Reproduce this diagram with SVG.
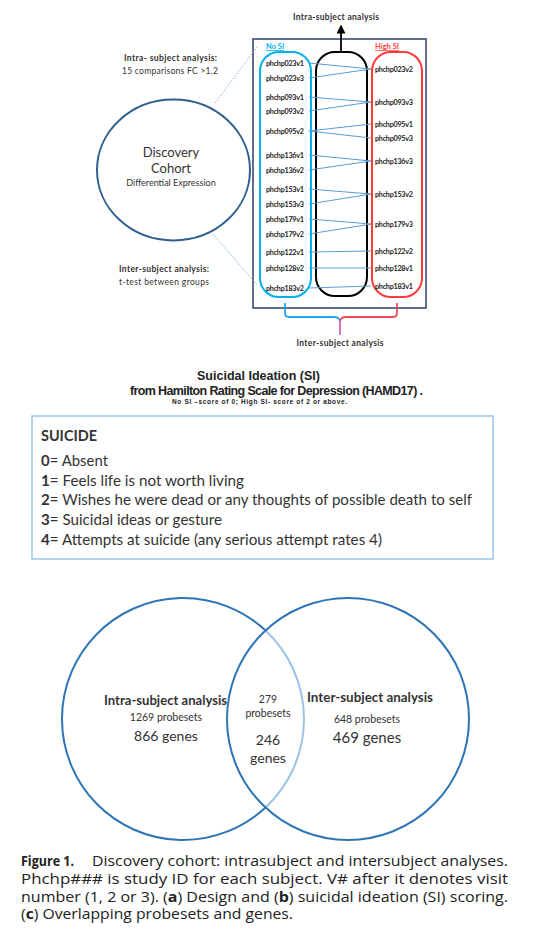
<svg xmlns="http://www.w3.org/2000/svg" width="559" height="933" viewBox="0 0 559 933">
<style>
.lbl{font-family:Lato,"Liberation Sans",sans-serif;font-weight:bold;font-size:7.2px;fill:#222}
.cal{font-family:Lato,"Liberation Sans",sans-serif;fill:#333}
.b{font-weight:bold}
.ln{stroke:#5b9bd5;stroke-width:1;fill:none}
.dot{stroke:#7fb2e0;stroke-width:1;stroke-dasharray:1.5,1.5;fill:none}
.cap{font-family:"Open Sans","Noto Sans",sans-serif;font-size:14.5px;fill:#222}
.arial{font-family:"Liberation Sans",Arial,sans-serif;font-weight:bold;fill:#222}
</style>
<defs>
<marker id="ah" viewBox="0 0 10 10" refX="5" refY="5" markerWidth="5" markerHeight="5" orient="auto"><path d="M0,0 L10,5 L0,10 z" fill="#000"/></marker>
</defs>
<rect width="559" height="933" fill="#fff"/>

<g id="cohort">
<ellipse cx="173.5" cy="170" rx="76.5" ry="70.5" fill="none" stroke="#2f5f8f" stroke-width="2"/>
<text class="cal" x="171" y="157" font-size="13" text-anchor="middle">Discovery</text>
<text class="cal" x="171" y="173" font-size="13" text-anchor="middle">Cohort</text>
<text class="cal" x="171" y="186" font-size="9" text-anchor="middle">Differential Expression</text>
</g>

<g id="intra-label">
<text class="cal b" x="124" y="61" font-size="8.5" textLength="93">Intra- subject analysis:</text>
<text class="cal" x="122" y="74" font-size="8.5" textLength="96">15 comparisons  FC &gt;1.2</text>
</g>
<g id="inter-label">
<text class="cal b" x="119" y="272" font-size="8.5" textLength="90">Inter-subject analysis:</text>
<text class="cal" x="119" y="285" font-size="8.5" textLength="90">t-test  between groups</text>
</g>

<g id="frame">
<rect x="253" y="39" width="173" height="269" fill="none" stroke="#2f3d6b" stroke-width="1.5"/>
<rect x="260" y="52" width="51" height="245" rx="19" fill="none" stroke="#00b0f0" stroke-width="2"/>
<rect x="316" y="52" width="51" height="244" rx="19" fill="none" stroke="#000" stroke-width="2"/>
<rect x="372" y="52" width="50" height="245" rx="19" fill="none" stroke="#ff3b3b" stroke-width="2"/>
<text x="266" y="49" font-family="Lato,'Liberation Sans',sans-serif" font-size="7.5" font-weight="bold" fill="#00b0f0" text-decoration="underline">No SI</text>
<text x="375" y="49" font-family="Lato,'Liberation Sans',sans-serif" font-size="7.5" font-weight="bold" fill="#ff3b3b" text-decoration="underline">High SI</text>
<text class="cal b" x="336" y="20" font-size="8.5" text-anchor="middle" textLength="86">Intra-subject analysis</text>
</g>

<g id="nosi-labels">
<text class="lbl" x="266" y="65.5" textLength="38">phchp023v1</text>
<text class="lbl" x="266" y="80.5" textLength="38">phchp023v3</text>
<text class="lbl" x="266" y="99.5" textLength="38">phchp093v1</text>
<text class="lbl" x="266" y="113.5" textLength="38">phchp093v2</text>
<text class="lbl" x="266" y="133.5" textLength="38">phchp095v2</text>
<text class="lbl" x="266" y="157.5" textLength="38">phchp136v1</text>
<text class="lbl" x="266" y="172.5" textLength="38">phchp136v2</text>
<text class="lbl" x="266" y="191.5" textLength="38">phchp153v1</text>
<text class="lbl" x="266" y="206.5" textLength="38">phchp153v3</text>
<text class="lbl" x="266" y="221.5" textLength="38">phchp179v1</text>
<text class="lbl" x="266" y="236.5" textLength="38">phchp179v2</text>
<text class="lbl" x="266" y="254.5" textLength="38">phchp122v1</text>
<text class="lbl" x="266" y="270.5" textLength="38">phchp128v2</text>
<text class="lbl" x="266" y="290.5" textLength="38">phchp183v2</text>
</g>
<g id="highsi-labels">
<text class="lbl" x="375" y="71.5" textLength="38">phchp023v2</text>
<text class="lbl" x="375" y="104.5" textLength="38">phchp093v3</text>
<text class="lbl" x="375" y="126.5" textLength="38">phchp095v1</text>
<text class="lbl" x="375" y="140.5" textLength="38">phchp095v3</text>
<text class="lbl" x="375" y="163.5" textLength="38">phchp136v3</text>
<text class="lbl" x="375" y="196.5" textLength="38">phchp153v2</text>
<text class="lbl" x="375" y="226.5" textLength="38">phchp179v3</text>
<text class="lbl" x="375" y="253.5" textLength="38">phchp122v2</text>
<text class="lbl" x="375" y="270.5" textLength="38">phchp128v1</text>
<text class="lbl" x="375" y="288.5" textLength="38">phchp183v1</text>
</g>

<g id="connectors">
<line class="ln" x1="309" y1="63" x2="371" y2="69"/>
<line class="ln" x1="309" y1="78" x2="371" y2="69"/>
<line class="ln" x1="309" y1="97" x2="371" y2="102"/>
<line class="ln" x1="309" y1="111" x2="371" y2="102"/>
<line class="ln" x1="309" y1="131" x2="371" y2="124"/>
<line class="ln" x1="309" y1="131" x2="371" y2="138"/>
<line class="ln" x1="309" y1="155" x2="371" y2="161"/>
<line class="ln" x1="309" y1="170" x2="371" y2="161"/>
<line class="ln" x1="309" y1="189" x2="371" y2="194"/>
<line class="ln" x1="309" y1="204" x2="371" y2="194"/>
<line class="ln" x1="309" y1="219" x2="371" y2="224"/>
<line class="ln" x1="309" y1="234" x2="371" y2="224"/>
<line class="ln" x1="309" y1="252" x2="371" y2="251"/>
<line class="ln" x1="309" y1="268" x2="371" y2="268"/>
<line class="ln" x1="309" y1="288" x2="371" y2="286"/>
<line x1="341" y1="52" x2="341" y2="29" stroke="#000" stroke-width="1.8" marker-end="url(#ah)"/>
<line class="dot" x1="215" y1="103" x2="257" y2="47"/>
<line class="dot" x1="213" y1="234" x2="257" y2="285"/>
<path d="M285,303 V313 Q285,317 289,317 H334 Q339,317 340,321" fill="none" stroke="#1fa8e8" stroke-width="1.8"/>
<path d="M397,303 V313 Q397,317 393,317 H346 Q341,317 340,321" fill="none" stroke="#e84a5f" stroke-width="1.8"/>
<path d="M340,320 V335" fill="none" stroke="#d068b0" stroke-width="1.8"/>
</g>
<g id="inter-title">
<text class="cal b" x="340" y="346" font-size="8.5" text-anchor="middle" textLength="87">Inter-subject analysis</text>
</g>

<g id="si-title">
<text class="arial" x="197" y="380" font-size="12.5" textLength="123">Suicidal Ideation (SI)</text>
<text class="arial" x="130" y="395" font-size="12.5" textLength="293">from Hamilton Rating Scale for Depression (HAMD17) .</text>
<text class="arial" x="172" y="404" font-size="6.5" textLength="175">No SI –score of 0; High SI- score of 2 or above.</text>
</g>

<g id="suicide-box">
<rect x="32" y="416" width="461" height="143" fill="#fff" stroke="#9dc3e6" stroke-width="1.5"/>
<text class="cal b" x="41" y="441" font-size="16" fill="#222" textLength="56" lengthAdjust="spacingAndGlyphs">SUICIDE</text>
<text class="cal" x="41" y="466" font-size="16" textLength="67" lengthAdjust="spacingAndGlyphs"><tspan class="b">0</tspan>= Absent</text>
<text class="cal" x="41" y="486" font-size="16" textLength="203" lengthAdjust="spacingAndGlyphs"><tspan class="b">1</tspan>= Feels life is not worth living</text>
<text class="cal" x="41" y="505" font-size="16" textLength="431" lengthAdjust="spacingAndGlyphs"><tspan class="b">2</tspan>= Wishes he were dead or any thoughts of possible death to self</text>
<text class="cal" x="41" y="525" font-size="16" textLength="181" lengthAdjust="spacingAndGlyphs"><tspan class="b">3</tspan>= Suicidal ideas or gesture</text>
<text class="cal" x="41" y="545" font-size="16" textLength="341" lengthAdjust="spacingAndGlyphs"><tspan class="b">4</tspan>= Attempts at suicide (any serious attempt rates 4)</text>
</g>

<g id="venn">
<path d="M265.5,630.5 A121,121 0 1 0 265.5,807.5" fill="none" stroke="#2e75b6" stroke-width="2"/>
<path d="M265.5,630.5 A121,121 0 0 1 265.5,807.5" fill="none" stroke="#9dc3e6" stroke-width="2"/>
<circle cx="348" cy="719" r="121" fill="none" stroke="#2e75b6" stroke-width="2"/>
</g>
<g id="venn-intra">
<text class="cal b" x="104" y="705" font-size="13.5" textLength="123" lengthAdjust="spacingAndGlyphs">Intra-subject analysis</text>
<text class="cal" x="166" y="721" font-size="10.5" text-anchor="middle">1269 probesets</text>
<text class="cal" x="166" y="741" font-size="14" text-anchor="middle">866  genes</text>
</g>
<g id="venn-overlap">
<text class="cal" x="268" y="703" font-size="10.5" text-anchor="middle">279</text>
<text class="cal" x="268" y="717" font-size="10.5" text-anchor="middle">probesets</text>
<text class="cal" x="268" y="745" font-size="14" text-anchor="middle">246</text>
<text class="cal" x="268" y="763" font-size="14" text-anchor="middle">genes</text>
</g>
<g id="venn-inter">
<text class="cal b" x="307" y="702" font-size="13.5" textLength="126" lengthAdjust="spacingAndGlyphs">Inter-subject  analysis</text>
<text class="cal" x="367" y="723" font-size="10.5" text-anchor="middle">648 probesets</text>
<text class="cal" x="367" y="743" font-size="15" text-anchor="middle">469 genes</text>
</g>

<g id="caption">
<text class="cap" x="21" y="866" font-weight="bold" textLength="53" lengthAdjust="spacingAndGlyphs">Figure 1.</text>
<text class="cap" x="92" y="866" textLength="416" lengthAdjust="spacingAndGlyphs">Discovery cohort: intrasubject and intersubject analyses.</text>
<text class="cap" x="21" y="883.5" textLength="487" lengthAdjust="spacingAndGlyphs">Phchp### is study ID for each subject. V# after it denotes visit</text>
<text class="cap" x="21" y="901.5" textLength="487" lengthAdjust="spacingAndGlyphs">number (1, 2 or 3). (<tspan font-weight="bold">a</tspan>) Design and (<tspan font-weight="bold">b</tspan>) suicidal ideation (SI) scoring.</text>
<text class="cap" x="21" y="919" textLength="272" lengthAdjust="spacingAndGlyphs">(<tspan font-weight="bold">c</tspan>) Overlapping probesets and genes.</text>
</g>
</svg>
